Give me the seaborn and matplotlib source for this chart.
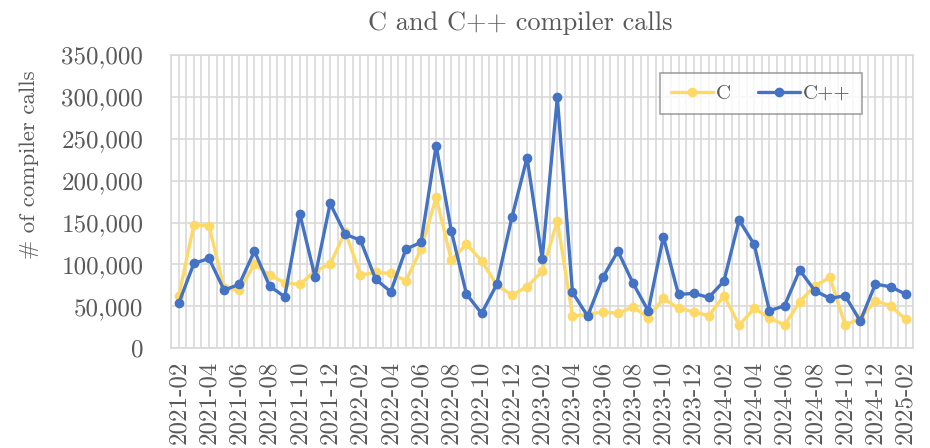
import pandas as pd
import matplotlib.pyplot as plt
import seaborn as sns
from matplotlib.ticker import FuncFormatter, MultipleLocator

months = pd.period_range("2021-02", "2025-02", freq="M").strftime("%Y-%m").tolist()

c_calls = [62100, 146900, 146100, 71300, 69300, 100300, 87200, 78000, 76100, 92000,
           100300, 138900, 87200, 90400, 89200, 80400, 118300, 180000, 105100, 124200,
           104300, 75300, 63300, 73200, 92000, 152100, 38200, 40200, 43400, 41400,
           49300, 36200, 59400, 47400, 43400, 38600, 62500, 27500, 47400, 36200,
           27500, 55300, 74400, 84400, 27500, 35500, 56500, 50600, 34300]

cpp_calls = [53400, 101100, 107100, 69300, 76100, 115900, 74100, 61300, 160100, 85200,
             172800, 135800, 129000, 82400, 67300, 118300, 126200, 241700, 139800, 64500,
             41400, 76100, 156100, 227300, 106300, 299400, 66500, 38200, 84400, 115900,
             77300, 44600, 133000, 64100, 65300, 60500, 80000, 152900, 123800, 44600,
             50600, 93200, 68500, 59400, 62500, 32300, 76500, 73200, 64500]

df = pd.DataFrame({
    "idx": list(range(len(months))) * 2,
    "calls": c_calls + cpp_calls,
    "lang": ["C"] * len(months) + ["C++"] * len(months),
})

sns.set_style("white")
plt.rcParams["font.family"] = ["cmr10", "DejaVu Serif"]
text_color = "#595959"

fig = plt.figure(figsize=(9.3, 4.48), dpi=100)
ax = fig.add_axes([0.184, 0.223, 0.798, 0.654])

sns.lineplot(data=df, x="idx", y="calls", hue="lang",
             palette={"C": "#FFD966", "C++": "#4472C4"},
             marker="o", markersize=7, markeredgewidth=0, linewidth=2.4, ax=ax)

ax.set_xlim(-0.5, len(months) - 0.5)
ax.set_ylim(0, 350000)
ax.yaxis.set_major_locator(MultipleLocator(50000))
ax.yaxis.set_major_formatter(FuncFormatter(lambda v, p: f"{int(v):,}"))
ax.set_xticks(range(0, len(months), 2))
ax.set_xticklabels(months[::2], rotation=90)
ax.xaxis.set_minor_locator(MultipleLocator(0.5))

ax.grid(True, which="major", axis="y", color="#D9D9D9", linewidth=1.2)
ax.grid(True, which="both", axis="x", color="#D9D9D9", linewidth=1.2)
ax.set_axisbelow(True)
for s in ax.spines.values():
    s.set_color("#D9D9D9")
    s.set_linewidth(1.2)
ax.tick_params(axis="both", which="both", length=0, labelsize=18, colors=text_color)
ax.tick_params(axis="y", pad=20)
ax.tick_params(axis="x", pad=9)

ax.set_xlabel("")
ax.set_ylabel("# of compiler calls", fontsize=16.5, color=text_color)
ax.yaxis.set_label_coords(-0.178, 0.625)
fig.text(520 / 930, 1 - 23 / 448, "C and C++ compiler calls", fontsize=19,
         color=text_color, ha="center", va="center")

leg = ax.legend(loc="upper right", bbox_to_anchor=(0.931, 0.939), ncol=2, fontsize=15,
                frameon=True, fancybox=False, edgecolor="#8C8C8C", handlelength=2.0,
                handletextpad=0.15, columnspacing=1.3, borderpad=0.55, borderaxespad=0,
                title=None)
leg.get_frame().set_linewidth(1.2)
for t in leg.get_texts():
    t.set_color(text_color)

fig.savefig("out.png", dpi=100)
